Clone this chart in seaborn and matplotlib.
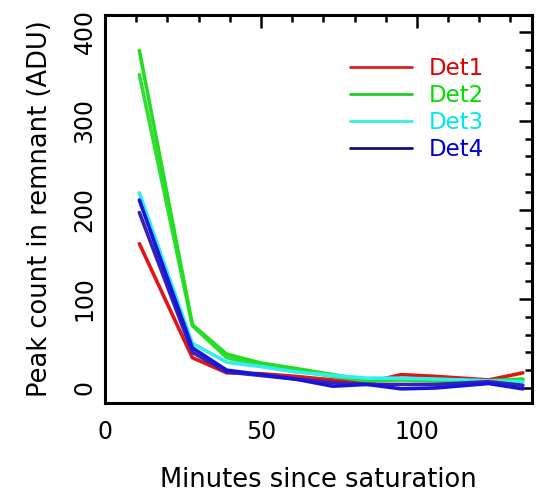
import numpy as np
import pandas as pd
import matplotlib
matplotlib.use("Agg")
import matplotlib.pyplot as plt
from matplotlib.lines import Line2D
from matplotlib.ticker import MultipleLocator
import seaborn as sns

# Sampling times after saturation (minutes)
minutes = [11, 28, 39, 50, 61, 73, 84, 95, 106, 123, 134]

# Peak remnant counts (ADU) per detector run
det1_a = [162, 34, 17, 16, 13, 9, 6, 15, 13, 9, 17]
det2_a = [379, 71, 38, 28, 22, 15, 9, 10, 9, 8, 10]
det2_b = [352, 70, 34, 25, 20, 13, 8, 9, 8, 8, 9]
det3_a = [219, 50, 29, 24, 18, 14, 11, 11, 10, 8, 7]
det4_a = [211, 45, 20, 15, 10, 2, 4, -1, 0, 5, -1]
det4_b = [197, 40, 18, 14, 10, 6, 4, 4, 4, 7, 3]

detectors = ["Det1", "Det2", "Det3", "Det4"]
runs = [
    ("Det1", "a", det1_a),
    ("Det2", "a", det2_a),
    ("Det2", "b", det2_b),
    ("Det3", "a", det3_a),
    ("Det4", "a", det4_a),
    ("Det4", "b", det4_b),
]

rows = []
for det, run, vals in runs:
    for m, v in zip(minutes, vals):
        rows.append({"minutes": m, "counts": v, "detector": det, "run": det + run})
df = pd.DataFrame(rows)

line_colors = {
    "Det1a": "#e01515",
    "Det2a": "#22dd22",
    "Det2b": "#33dd33",
    "Det3a": "#33eeee",
    "Det4a": "#1515e0",
    "Det4b": "#3a22b0",
}
legend_line = {"Det1": "#dd2020", "Det2": "#22cc22", "Det3": "#33eeee", "Det4": "#10107a"}
legend_text = {"Det1": "#e00000", "Det2": "#00dd00", "Det3": "#00e8e8", "Det4": "#0000d0"}

sns.set_style("white")
plt.rcParams["font.family"] = ["DejaVu Sans"]
for key in ["text.color", "axes.labelcolor", "xtick.color", "ytick.color", "axes.edgecolor"]:
    plt.rcParams[key] = "black"

fig = plt.figure(figsize=(5.36, 4.94), dpi=100)
ax = fig.add_axes([0.196, 0.184, 0.797, 0.786])

order = ["Det1a", "Det2b", "Det2a", "Det3a", "Det4b", "Det4a"]
sns.lineplot(data=df, x="minutes", y="counts", hue="run", hue_order=order,
             palette=line_colors, estimator=None, linewidth=2.6,
             legend=False, ax=ax)

ax.set_xlim(0, 137)
ax.set_ylim(-17, 419)
ax.xaxis.set_major_locator(MultipleLocator(50))
ax.xaxis.set_minor_locator(MultipleLocator(10))
ax.yaxis.set_major_locator(MultipleLocator(100))
ax.yaxis.set_minor_locator(MultipleLocator(20))
ax.tick_params(which="both", direction="in", top=True, right=True,
               width=1.8, color="black", labelcolor="black")
ax.tick_params(which="major", length=9.5, labelsize=17)
ax.tick_params(axis="x", which="major", pad=12)
ax.tick_params(axis="y", which="major", pad=6)
ax.tick_params(which="minor", length=5)
for lab in ax.get_yticklabels():
    lab.set_rotation(90)
    lab.set_va("center")
for sp in ax.spines.values():
    sp.set_linewidth(2.2)
    sp.set_color("black")

ax.set_xlabel("Minutes since saturation", fontsize=18.5, labelpad=17)
ax.set_ylabel("Peak count in remnant (ADU)", fontsize=18.5, labelpad=14)

handles = [Line2D([0], [0], color=legend_line[d], lw=2.0) for d in detectors]
leg = ax.legend(handles, detectors, loc="upper left", bbox_to_anchor=(0.552, 0.915),
                frameon=False, fontsize=16.5, handlelength=2.7, handletextpad=0.75,
                labelspacing=0.17, borderaxespad=0)
for txt, d in zip(leg.get_texts(), detectors):
    txt.set_color(legend_text[d])

fig.savefig("out.png", dpi=100)
